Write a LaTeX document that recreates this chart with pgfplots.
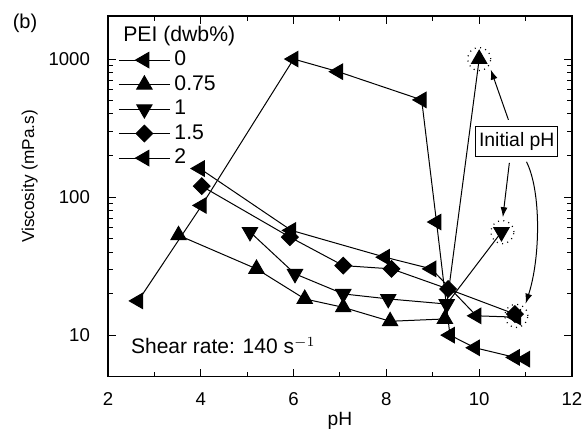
\documentclass[border=0pt]{standalone}
\usepackage{fontspec}
\setmainfont{Liberation Sans}
\usepackage{pgfplots}
\pgfplotsset{compat=1.18}
\usetikzlibrary{arrows.meta}
\newcommand{\fs}{\fontsize{9.3}{11}\selectfont}
\newcommand{\fl}{\fontsize{10.6}{12.7}\selectfont}
\begin{document}
\begin{tikzpicture}
\useasboundingbox (-54pt,-28.65pt) rectangle (239pt,188.35pt);
\begin{axis}[
  scale only axis, width=232pt, height=180.35pt,
  ymode=log, xmin=2, xmax=12, ymin=5, ymax=2050,
  xtick={2,4,...,12}, minor xtick={3,5,...,11},
  ytick={10,100,1000}, yticklabels={10,100,1000},
  tick align=inside, major tick length=4pt, minor tick length=2.5pt,
  axis line style={line width=0.6pt}, every tick/.style={line width=0.5pt, black},
  /pgf/number format/assume math mode=true,
  tick label style={font=\fs},
  xticklabel style={yshift=-4.5pt},
  yticklabel style={xshift=-5.5pt},
  xlabel={pH}, ylabel={Viscosity (mPa.s)},
  xlabel style={font=\fontsize{9.6}{11}\selectfont, at={(axis description cs:0.5,-0.1365)}, anchor=base},
  ylabel style={font=\fontsize{8.6}{10}\selectfont, at={(axis description cs:-0.169,0.555)}, anchor=center},
  legend style={draw=none, fill=none, font=\fl, at={(axis description cs:0.017,0.99)}, anchor=north west, row sep=-0.6pt, inner sep=1pt},
  legend cell align=left,
  legend image code/.code={\draw[mark repeat=2,mark phase=2] plot coordinates {(0cm,0cm) (0.45cm,0cm) (0.9cm,0cm)};},
  every axis plot/.append style={black, line width=0.5pt, mark options={solid, fill=black}},
]
\addlegendimage{empty legend}
\addlegendentry{\hspace{-0.9cm}PEI (dwb\%)}
% PEI 0
\addplot[mark=triangle*, mark size=4.4pt, mark options={rotate=90}] coordinates {
(2.65,17.7) (4.02,87) (6.0,1000) (6.96,810) (8.76,506) (9.08,66) (9.37,10) (9.91,8.1) (10.77,6.9) (10.99,6.7)};
\addlegendentry{0}
% PEI 0.75
\addplot[mark=triangle*, mark size=4.4pt] coordinates {
(3.52,52.9) (5.2,30.2) (6.24,18.3) (7.07,15.9) (8.08,12.6) (9.26,13.1) (10.0,1000)};
\addlegendentry{0.75}
% PEI 1
\addplot[mark=triangle*, mark size=4.4pt, mark options={rotate=180}] coordinates {
(5.06,55.9) (6.03,27.8) (7.07,19.9) (8.04,18.3) (9.3,16.8) (10.48,55.8)};
\addlegendentry{1}
% PEI 1.5
\addplot[mark=square*, mark size=2.95pt, mark options={rotate=45}] coordinates {
(4.02,120) (5.92,51.3) (7.07,31.9) (8.11,30.2) (9.33,21.6) (10.77,14.2)};
\addlegendentry{1.5}
% PEI 2
\addplot[mark=triangle*, mark size=4.4pt, mark options={rotate=90}] coordinates {
(3.98,161) (5.95,57.4) (7.97,36.7) (8.97,30.2) (9.94,13.8) (10.8,13.5)};
\addlegendentry{2}
% initial pH circles
\addplot[only marks, mark=o, mark size=5.8pt, mark options={line width=0.6pt, dash pattern=on 0.5pt off 2.2pt, fill=none}, forget plot] coordinates {
(10.0,1000) (10.5,55.8) (10.8,13.8)};
\node[draw, line width=0.5pt, fill=white, font=\fontsize{9.7}{11.6}\selectfont, inner xsep=1.6pt, inner ysep=3pt] (ip) at (axis cs:10.81,254) {Initial pH};
\draw[-{Latex[length=5pt,width=3.5pt]}, line width=0.5pt] (axis cs:10.63,363) -- (axis cs:10.25,838);
\draw[-{Latex[length=5pt,width=3.5pt]}, line width=0.5pt] (axis cs:10.65,177) -- (axis cs:10.51,71.5);
\draw[-{Latex[length=5pt,width=3.5pt]}, line width=0.5pt] (axis cs:11.02,180) .. controls (axis cs:11.34,110) and (axis cs:11.32,36) .. (axis cs:11.0,16.9);
\node[font=\fontsize{10.5}{12.6}\selectfont, anchor=base west] at (axis description cs:0.0345,0.063) {Shear rate: 140 s$^{-1}$};
\end{axis}
\node[font=\fontsize{10}{12}\selectfont] at (-41.5pt,176.5pt) {(b)};
\end{tikzpicture}
\end{document}
